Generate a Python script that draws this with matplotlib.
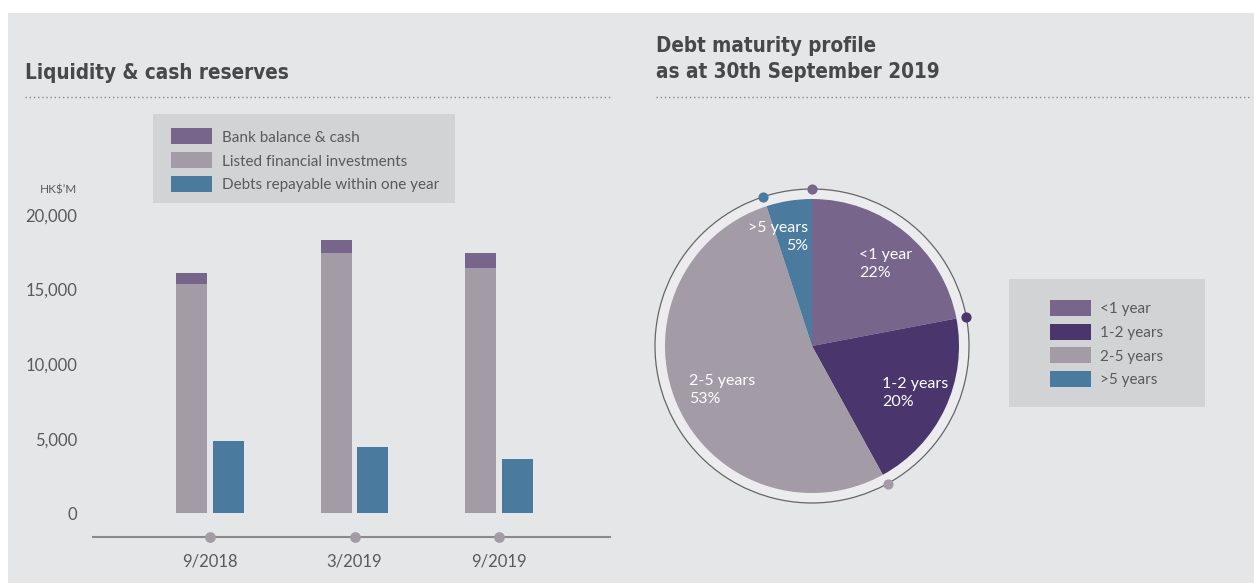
import numpy as np
import matplotlib
matplotlib.use("Agg")
import matplotlib.pyplot as plt
from matplotlib.patches import Rectangle, Circle
from matplotlib.lines import Line2D

# ---- data ----
periods = ["9/2018", "3/2019", "9/2019"]
bank_cash = [740, 870, 1000]
listed_inv = [15370, 17450, 16450]
debts_1yr = [4850, 4450, 3640]

maturity_labels = ["<1 year", "1-2 years", "2-5 years", ">5 years"]
maturity_pct = [22, 20, 53, 5]

bar_legend = ["Bank balance & cash", "Listed financial investments",
              "Debts repayable within one year"]

# ---- style ----
C_BANK = "#77658c"
C_LISTED = "#a39ba6"
C_DEBT = "#4a7a9e"
C_12 = "#4a356d"
pie_colors = [C_BANK, C_12, C_LISTED, C_DEBT]
BG = "#e5e6e8"
BOX = "#d2d3d5"
TXT = "#5a5a5a"
TITLE = "#484848"
BODY_FONT = ["Lato", "DejaVu Sans"]
TITLE_FONT = ["DejaVu Sans"]
# label nudges (axes units) and alignment for the pie labels
label_nudge = {"<1 year": (-0.16, -0.02, "left"), "1-2 years": (-0.2, 0.0, "left"),
               "2-5 years": (-0.15, 0.0, "left"), ">5 years": (0.09, 0.0, "right")}

W, H = 1254, 583
fx = lambda x: x / W
fy = lambda y: 1 - y / H

fig = plt.figure(figsize=(W / 100, H / 100), dpi=100, facecolor="white")
fig.add_artist(Rectangle((fx(8), 0), 1 - fx(8), fy(13), transform=fig.transFigure,
                         facecolor=BG, edgecolor="none", zorder=-10))

# titles and dotted rules
fig.text(fx(25), fy(73), "Liquidity & cash reserves", fontsize=14.8, fontweight="bold",
         fontstretch="condensed", family=TITLE_FONT, color=TITLE, va="center", ha="left")
fig.text(fx(656), fy(59), "Debt maturity profile\nas at 30th September 2019", fontsize=14.8,
         fontweight="bold", fontstretch="condensed", family=TITLE_FONT, color=TITLE,
         va="center", ha="left", linespacing=1.4)
for x0, x1 in [(25, 610), (656, 1252)]:
    fig.add_artist(Line2D([fx(x0), fx(x1)], [fy(97), fy(97)], transform=fig.transFigure,
                          color="#8a8a8a", lw=1, linestyle=(0, (1, 2))))


def draw_legend(box, x_sw, x_txt, y_rows, labels, colors):
    bx0, by0, bx1, by1 = box
    fig.add_artist(Rectangle((fx(bx0), fy(by1)), fx(bx1) - fx(bx0), fy(by0) - fy(by1),
                             transform=fig.transFigure, facecolor=BOX, edgecolor="none"))
    for y, lab, col in zip(y_rows, labels, colors):
        fig.add_artist(Rectangle((fx(x_sw), fy(y + 8)), fx(41), 16 / H,
                                 transform=fig.transFigure, facecolor=col, edgecolor="none"))
        fig.text(fx(x_txt), fy(y + 1.5), lab, fontsize=11, family=BODY_FONT, color=TXT,
                 va="center", ha="left")


# ---- bar chart ----
y0_px, y20k_px, axis_px = 513.3, 215, 537
ymin = -(axis_px - y0_px) * 20000 / (y0_px - y20k_px)
ax = fig.add_axes([fx(93), fy(axis_px), fx(610) - fx(93), (axis_px - y20k_px) / H])
ax.patch.set_alpha(0)
x = np.arange(len(periods))
bw, off = 0.2145, 0.128
ax.bar(x - off, listed_inv, bw, color=C_LISTED)
ax.bar(x - off, bank_cash, bw, bottom=listed_inv, color=C_BANK)
ax.bar(x + off, debts_1yr, bw, color=C_DEBT)
ax.set_xlim((93 - 210) / 144.5, (610 - 210) / 144.5)
ax.set_ylim(ymin, 20000)
for s in ["top", "right", "left"]:
    ax.spines[s].set_visible(False)
ax.spines["bottom"].set_color("#8a8a8a")
ax.spines["bottom"].set_linewidth(1.5)
ax.scatter(x, [ymin] * len(x), s=45, color=C_LISTED, zorder=5, clip_on=False)
ax.set_xticks(x, periods)
ax.set_yticks([0, 5000, 10000, 15000, 20000],
              [f"{v:,}" for v in [0, 5000, 10000, 15000, 20000]])
ax.tick_params(axis="x", length=0, pad=12, labelsize=12, labelcolor=TXT)
ax.tick_params(axis="y", length=0, pad=11.5, labelsize=12, labelcolor=TXT)
for lab in ax.get_xticklabels() + ax.get_yticklabels():
    lab.set_family(BODY_FONT)
fig.text(fx(77), fy(190), "HK$’M", fontsize=8.5, family=BODY_FONT, color=TXT,
         ha="right", va="center")

draw_legend((153, 114, 455, 203), 171, 222, [136, 160, 184], bar_legend,
            [C_BANK, C_LISTED, C_DEBT])

# ---- pie chart ----
cx, cy, r = 812, 346, 147
half = 170
ax2 = fig.add_axes([fx(cx - half), fy(cy + half), 2 * half / W, 2 * half / H])
ring = 157 / r
ax2.add_patch(Circle((0, 0), ring, facecolor="#ececee", edgecolor="#666666", lw=0.9, zorder=0))
wedges, _ = ax2.pie(maturity_pct, colors=pie_colors, startangle=90, counterclock=False,
                    radius=1, wedgeprops=dict(linewidth=0))
ax2.set_xlim(-half / r, half / r)
ax2.set_ylim(-half / r, half / r)
ax2.axis("off")
for w, lab, pct, col in zip(wedges, maturity_labels, maturity_pct, pie_colors):
    start = np.deg2rad(w.theta2)  # clockwise: wedge starts at theta2
    ax2.scatter([ring * np.cos(start)], [ring * np.sin(start)], s=40, color=col,
                zorder=5, clip_on=False)
    mid = np.deg2rad((w.theta1 + w.theta2) / 2)
    d = 0.75
    dx, dy, ha = label_nudge[lab]
    ax2.text(d * np.cos(mid) + dx, d * np.sin(mid) + dy, f"{lab}\n{pct}%", ha=ha,
             va="center", color="white", fontsize=11.5, family=BODY_FONT,
             multialignment=ha, linespacing=1.4)

draw_legend((1009, 279, 1205, 407), 1050, 1100, [308, 331.5, 355, 378.5],
            maturity_labels, pie_colors)

fig.savefig("out.png", dpi=100, facecolor=fig.get_facecolor())
